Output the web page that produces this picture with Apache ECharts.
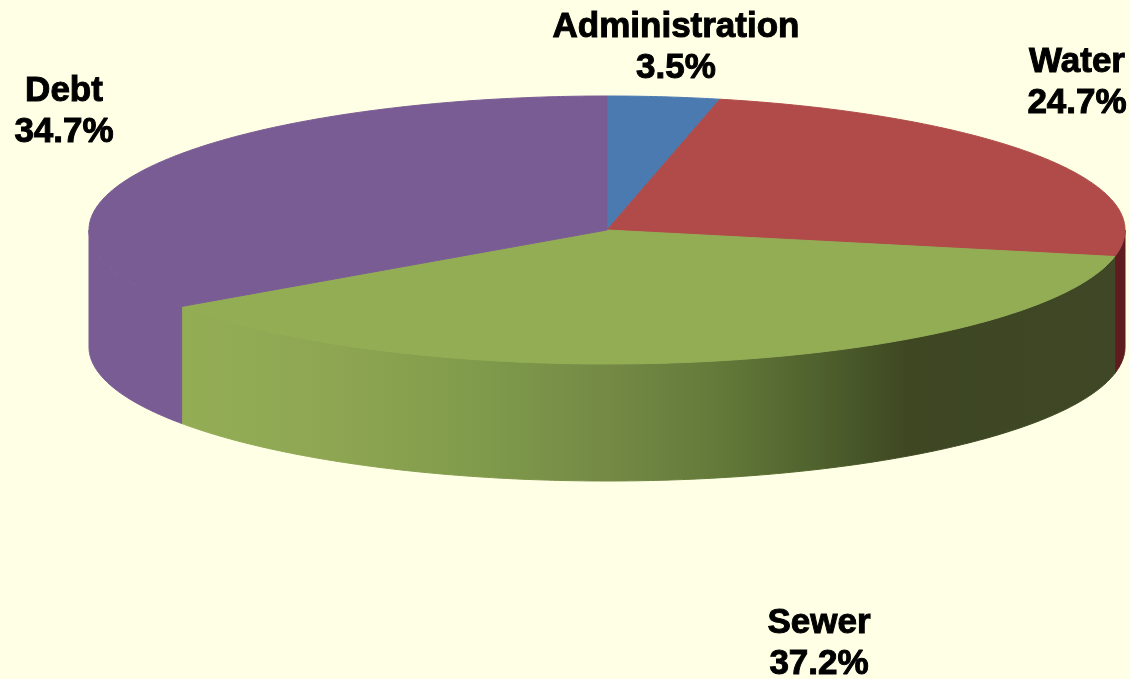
<!DOCTYPE html>
<html>
<head>
<meta charset="utf-8">
<style>html,body{margin:0;padding:0;background:#ffffe5}#c{width:1130px;height:679px}</style>
<script src="https://cdn.jsdelivr.net/npm/echarts@6/dist/echarts.min.js"></script>
</head>
<body>
<div id="c"></div>
<script>
const categories = ['Administration', 'Water', 'Sewer', 'Debt'];
const shares = [3.5, 24.7, 37.2, 34.7];
const topColors = ['#4a7ab0', '#b04b49', '#93ad55', '#7a5c94'];
const wallColors = ['#2f5482', '#5f1c1e', null, '#7a5c94'];
const sewerWallStops = [
  [0, '#93ad55'], [0.163, '#8ea652'], [0.327, '#7f9a4b'], [0.453, '#748a45'],
  [0.573, '#647a3a'], [0.683, '#4f612d'], [0.777, '#3e4722'], [1, '#3f4726']
];
const labelCentres = [[676, 48], [1077, 83], [819, 644], [64, 112]];

const CX = 607, CY = 230, RX = 518, RY = 134, DEPTH = 117;
const total = shares.reduce((a, b) => a + b, 0);
const starts = [];
shares.reduce((acc, v, i) => { starts[i] = acc; return acc + v; }, 0);

const rad = v => v / total * Math.PI * 2;
const pt = (a, dy) => [CX + RX * Math.sin(a), CY - RY * Math.cos(a) + (dy || 0)];
function arc(a0, a1, dy) {
  const n = Math.max(2, Math.ceil((a1 - a0) / 0.01));
  const out = [];
  for (let i = 0; i <= n; i++) out.push(pt(a0 + (a1 - a0) * i / n, dy));
  return out;
}

function renderItem(params, api) {
  const i = params.dataIndex;
  const a0 = rad(starts[i]);
  const a1 = a0 + rad(api.value(0));
  const children = [];

  const w0 = Math.max(a0, Math.PI / 2);
  const w1 = Math.min(a1, Math.PI * 1.5);
  if (w1 > w0) {
    const upper = arc(w0, w1, 0);
    const lower = arc(w0, w1, DEPTH).reverse();
    let fill = wallColors[i];
    if (!fill) {
      const x0 = pt(w1)[0], x1 = pt(w0)[0];
      fill = new echarts.graphic.LinearGradient(x0, 0, x1, 0,
        sewerWallStops.map(s => ({ offset: s[0], color: s[1] })), true);
    }
    children.push({
      type: 'polygon', z2: 1,
      shape: { points: upper.concat(lower) },
      style: { fill: fill, stroke: fill, lineWidth: 1 }
    });
  }
  children.push({
    type: 'polygon', z2: 2,
    shape: { points: [[CX, CY]].concat(arc(a0, a1, 0)) },
    style: { fill: api.visual('color'), stroke: api.visual('color'), lineWidth: 1 }
  });
  const c = labelCentres[i];
  children.push({
    type: 'text', z2: 3,
    x: c[0], y: c[1],
    style: {
      text: categories[i] + '\n' + api.value(0).toFixed(1) + '%',
      font: 'bold 35px "Liberation Sans", Arial, sans-serif',
      fill: '#000', stroke: '#000', lineWidth: 1,
      align: 'center', verticalAlign: 'middle', lineHeight: 41
    }
  });
  return { type: 'group', children: children };
}

const chart = echarts.init(document.getElementById('c'), null, { renderer: 'canvas' });
chart.setOption({
  backgroundColor: '#ffffe5',
  animation: false,
  series: [{
    type: 'custom',
    coordinateSystem: 'none',
    renderItem: renderItem,
    data: shares.map((v, i) => ({ value: [v], itemStyle: { color: topColors[i] } }))
  }]
});
</script>
</body>
</html>
